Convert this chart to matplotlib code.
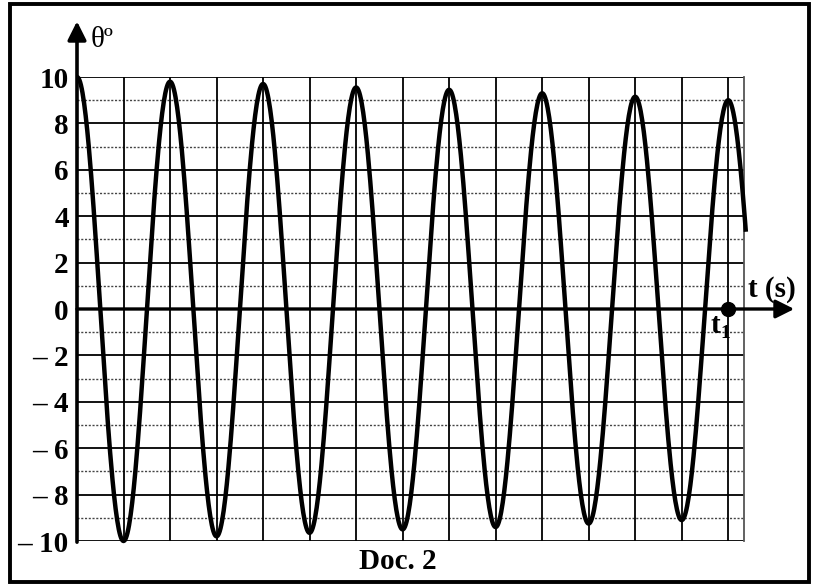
import numpy as np
import matplotlib.pyplot as plt
from matplotlib.patches import Rectangle

# extrema of the oscillation (t in grid divisions)
ext_t = [0, 1, 2, 3, 4, 5, 6, 7, 8, 9, 10, 11, 12, 13, 14, 15]
ext_val = [10, -10, 9.8, -9.8, 9.7, -9.65, 9.55, -9.5, 9.45, -9.4,
           9.3, -9.25, 9.15, -9.1, 9.0, -8.95]
t_end = 14.38       # curve stops here
t_grid_end = 14.34  # right edge of the grid
t1 = 14

ytick_vals = [10, 8, 6, 4, 2, 0, -2, -4, -6, -8, -10]
ytick_labels = ["10", "8", "6", "4", "2", "0", "\u2013 2", "\u2013 4",
                "\u2013 6", "\u2013 8", "\u2013 10"]

plt.rcParams['font.family'] = ['Liberation Serif', 'DejaVu Serif']

fig = plt.figure(figsize=(8.2, 5.85), dpi=100)
ax = fig.add_axes([77 / 820, 44 / 585, 667 / 820, 464 / 585])
ax.set_xlim(0, t_grid_end)
ax.set_ylim(-10, 10)

# curve: half cosine between successive extrema
tt, vv = [], []
for i in range(len(ext_t) - 1):
    a, b = ext_val[i], ext_val[i + 1]
    if ext_t[i] >= t_end:
        break
    s = np.linspace(ext_t[i], min(ext_t[i + 1], t_end), 60)
    tt.append(s)
    vv.append((a + b) / 2 + (a - b) / 2 * np.cos(np.pi * (s - ext_t[i])))
tt = np.concatenate(tt)
vv = np.concatenate(vv)

# grid
for v in range(-9, 10, 2):
    ax.axhline(v, color='#444444', lw=1.0, ls=(0, (1.5, 1.2)), zorder=1)
for v in range(-10, 11, 2):
    ax.axhline(v, color='black', lw=1.3, zorder=1)
for x in range(1, 15):
    ax.axvline(x, color='black', lw=1.3, zorder=1)

for s in ['top', 'bottom', 'left']:
    ax.spines[s].set_visible(False)
ax.spines['right'].set_color('#555555')
ax.spines['right'].set_linewidth(1.3)

ax.plot(tt, vv, color='black', lw=3.2, clip_on=False, zorder=4,
        solid_capstyle='butt')

# axes with arrows
ax.annotate('', xy=(15.42, 0), xytext=(0, 0), annotation_clip=False,
            arrowprops=dict(arrowstyle='-|>', lw=2.4, color='black',
                            mutation_scale=28, shrinkA=0, shrinkB=0), zorder=3)
ax.annotate('', xy=(0, 12.4), xytext=(0, -10.05), annotation_clip=False,
            arrowprops=dict(arrowstyle='-|>', lw=2.6, color='black',
                            mutation_scale=28, shrinkA=0, shrinkB=0), zorder=3)

ax.plot([t1], [0], 'o', color='black', ms=10, zorder=5, clip_on=False)

ax.set_xticks([])
ax.set_yticks(ytick_vals)
ax.set_yticklabels(ytick_labels, fontsize=21, fontweight='bold')
ax.tick_params(axis='y', length=0, pad=6)

ax.text(0.3, 11.6, "\u03b8\u00ba", fontsize=21, va='center', ha='left')
ax.text(14.95, 0.85, "t (s)", fontsize=21, fontweight='bold', ha='center', va='center')
ax.text(13.72, -0.7, "t", fontsize=21, fontweight='bold', ha='center', va='center')
ax.text(13.93, -1.05, "1", fontsize=14, fontweight='bold', ha='center', va='center')
ax.text(6.9, -10.9, "Doc. 2", fontsize=21, fontweight='bold', ha='center', va='center')

# outer frame
fig.patches.append(Rectangle((10 / 820, 3 / 585), 799 / 820, 578 / 585,
                             transform=fig.transFigure, fill=False,
                             lw=2.8, edgecolor='black'))

fig.savefig('out.png', dpi=100)
